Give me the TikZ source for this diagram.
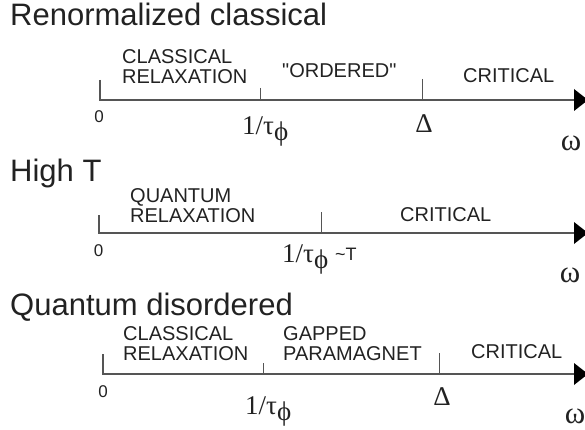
\documentclass[tikz,border=0pt]{standalone}
\usepackage{fontspec}
\setmainfont{Liberation Serif}
\newfontfamily\arialf{Liberation Sans}
\definecolor{txt}{HTML}{222222}
\definecolor{axc}{HTML}{555555}
\begin{document}
\begin{tikzpicture}[x=1pt,y=-1pt,
  title/.style={anchor=base west,inner sep=0pt,font=\arialf\fontsize{31}{31}\selectfont,text=txt},
  region/.style={anchor=north west,inner sep=0pt,font=\arialf\fontsize{20}{20}\selectfont,align=left,text=txt},
  zerolab/.style={anchor=base,inner sep=0pt,font=\arialf\fontsize{17}{17}\selectfont,text=txt},
  serif/.style={anchor=base west,inner sep=0pt,font=\fontsize{27}{27}\selectfont,text=txt},
  omegalab/.style={anchor=base,inner sep=0pt,font=\fontsize{31}{31}\selectfont,text=txt},
  axisline/.style={draw=axc,line width=1.3pt},
  tickline/.style={draw=axc,line width=1pt},
  tip/.style={fill=black,draw=none}
]
\useasboundingbox (0,0) rectangle (585,430);
\newcommand{\taulab}{1/τ\raisebox{-6pt}{ϕ}}
% ---------- Row 1 ----------
\node[title] (t1) at (10,26) {Renormalized classical};
\coordinate (a1s) at (100,100);
\coordinate (a1e) at (576,100);
\coordinate (k1a) at (260.7,88);
\coordinate (k1b) at (422,79);
\draw[axisline] (100,80) -- (a1s) -- (a1e);
\draw[tickline] (k1a) -- (k1a |- a1s);
\draw[tickline] (k1b) -- (k1b |- a1s);
\fill[tip] (574,89) -- (588,100) -- (574,111) -- cycle;
\node[region] (r1a) at (122,49) {CLASSICAL\\RELAXATION};
\node[region] (r1b) at (282,63.5) {"ORDERED"};
\node[region] (r1c) at (463,68.5) {CRITICAL};
\node[zerolab] (z1) at (99,123) {0};
\node[serif] (p1) at (242,135) {\taulab};
\node[serif,anchor=base] (d1) at (424,133) {Δ};
\node[omegalab] (w1) at (571,151) {ω};
% ---------- Row 2 ----------
\node[title] (t2) at (10,182) {High T};
\coordinate (a2s) at (99,233);
\coordinate (a2e) at (576,233);
\coordinate (k2a) at (321.3,212);
\draw[axisline] (99,215) -- (a2s) -- (a2e);
\draw[tickline] (k2a) -- (k2a |- a2s);
\fill[tip] (574,222) -- (588,233) -- (574,244) -- cycle;
\node[region] (r2a) at (130,188) {QUANTUM\\RELAXATION};
\node[region] (r2b) at (400,207.5) {CRITICAL};
\node[zerolab] (z2) at (98.7,256) {0};
\node[serif] (p2) at (282,262) {\taulab\ {\arialf\fontsize{18}{18}\selectfont\raisebox{2pt}{\textasciitilde T}}};
\node[omegalab] (w2) at (570,282) {ω};
% ---------- Row 3 ----------
\node[title] (t3) at (10,315) {Quantum disordered};
\coordinate (a3s) at (103,374);
\coordinate (a3e) at (576,374);
\coordinate (k3a) at (263.3,363);
\coordinate (k3b) at (439.3,353);
\draw[axisline] (103,354) -- (a3s) -- (a3e);
\draw[tickline] (k3a) -- (k3a |- a3s);
\draw[tickline] (k3b) -- (k3b |- a3s);
\fill[tip] (574,363) -- (588,374) -- (574,385) -- cycle;
\node[region] (r3a) at (123,326) {CLASSICAL\\RELAXATION};
\node[region] (r3b) at (283,326) {GAPPED\\PARAMAGNET};
\node[region] (r3c) at (471,344) {CRITICAL};
\node[zerolab] (z3) at (103,397) {0};
\node[serif] (p3) at (245,414) {\taulab};
\node[serif,anchor=base] (d3) at (442,405) {Δ};
\node[omegalab] (w3) at (575,423) {ω};
\end{tikzpicture}
\end{document}
